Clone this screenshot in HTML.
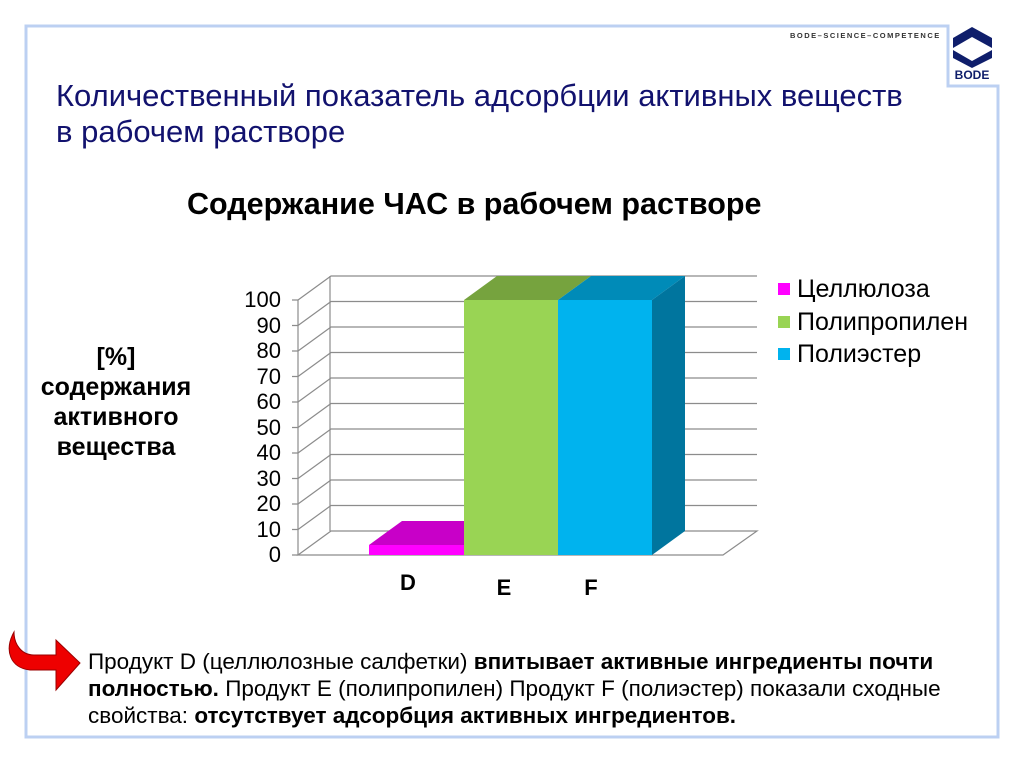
<!DOCTYPE html>
<html><head><meta charset="utf-8"><style>
body{margin:0;width:1024px;height:768px;background:#fff;position:relative;overflow:hidden;font-family:"Liberation Sans","DejaVu Sans",sans-serif}
.t{position:absolute;white-space:nowrap}
</style></head><body>
<svg width="1024" height="768" style="position:absolute;left:0;top:0">
<path d="M26 26 H948 V86 H998 V737 H26 Z" fill="none" stroke="#bcd0f2" stroke-width="3"/>
<text x="790" y="38" font-size="7.5" font-weight="bold" fill="#333" letter-spacing="1.5" font-family="Liberation Sans">BODE–SCIENCE–COMPETENCE</text>
<path d="M953 38 L972 27 L992 38 L992 48 L972 37 L953 48Z" fill="#0f1e6b"/>
<path d="M953 50 L972 61 L992 50 L992 58 L972 68 L953 58Z" fill="#0f1e6b"/>
<text x="972" y="79" text-anchor="middle" font-size="12" font-weight="bold" fill="#0f1e6b" font-family="Liberation Sans">BODE</text>
<g stroke="#8c8c8c" stroke-width="1.2" fill="none">
<line x1="298" y1="300" x2="298" y2="555"/>
<line x1="330" y1="276" x2="330" y2="531"/>
<path d="M298 300 L331 276 H757"/><path d="M298 325.5 L331 301.5 H757"/><path d="M298 351 L331 327 H757"/><path d="M298 376.5 L331 352.5 H757"/><path d="M298 402 L331 378 H757"/><path d="M298 427.5 L331 403.5 H757"/><path d="M298 453 L331 429 H757"/><path d="M298 478.5 L331 454.5 H757"/><path d="M298 504 L331 480 H757"/><path d="M298 529.5 L331 505.5 H757"/>
<path d="M298 555 L331 531 H757 L723 555 Z"/>
<path d="M292 300H298M292 325.5H298M292 351H298M292 376.5H298M292 402H298M292 427.5H298M292 453H298M292 478.5H298M292 504H298M292 529.5H298M292 555H298"/>
</g>
<polygon points="369,545 402,521 497,521 464,545" fill="#c800c8"/>
<rect x="369" y="545" width="95" height="10" fill="#ff00ff"/>
<polygon points="464,300 497,276 591,276 558,300" fill="#76a33e"/>
<rect x="464" y="300" width="94" height="255" fill="#99d454"/>
<polygon points="558,300 591,276 685,276 652,300" fill="#008bb8"/>
<polygon points="652,300 685,276 685,531 652,555" fill="#00759e"/>
<rect x="558" y="300" width="94" height="255" fill="#00b3ee"/>
<g font-size="22" fill="#000" text-anchor="end" font-family="Liberation Sans">
<text x="281" y="307">100</text><text x="281" y="333">90</text><text x="281" y="358">80</text><text x="281" y="384">70</text><text x="281" y="409">60</text><text x="281" y="435">50</text><text x="281" y="460">40</text><text x="281" y="486">30</text><text x="281" y="511">20</text><text x="281" y="537">10</text><text x="281" y="562">0</text>
</g>
<g font-size="22" font-weight="bold" text-anchor="middle" font-family="Liberation Sans">
<text x="408" y="590">D</text><text x="504" y="595">E</text><text x="591" y="595">F</text>
</g>
<rect x="778" y="283" width="12" height="12" fill="#ff00ff"/>
<rect x="778" y="316" width="12" height="12" fill="#99d454"/>
<rect x="778" y="348" width="12" height="12" fill="#00b3ee"/>
<g font-size="25" font-family="Liberation Sans"><text x="797" y="297">Целлюлоза</text><text x="797" y="330">Полипропилен</text><text x="797" y="362">Полиэстер</text></g>
<path d="M14 632 C4 650 10 668 30 670 L56 670 L56 690 L80 663 L56 640 L56 655 L34 655 C22 655 14 645 14 632Z" fill="#ee0000" stroke="#990000" stroke-width="1"/>
</svg>
<div class="t" style="left:56px;top:78px;font-size:31px;color:#12126e;line-height:36px">Количественный показатель адсорбции активных веществ<br>в рабочем растворе</div>
<div class="t" style="left:187px;top:187px;font-size:30.5px;font-weight:bold">Содержание ЧАС в рабочем растворе</div>
<div class="t" style="left:16px;top:342px;width:200px;text-align:center;font-size:25px;font-weight:bold;line-height:30px">[%]<br>содержания<br>активного<br>вещества</div>
<div class="t" style="left:88px;top:648px;font-size:22.5px;line-height:27px">Продукт D (целлюлозные салфетки) <b>впитывает активные ингредиенты почти</b><br><b>полностью.</b> Продукт E (полипропилен) Продукт F (полиэстер) показали сходные<br>свойства: <b>отсутствует адсорбция активных ингредиентов.</b></div>
</body></html>
